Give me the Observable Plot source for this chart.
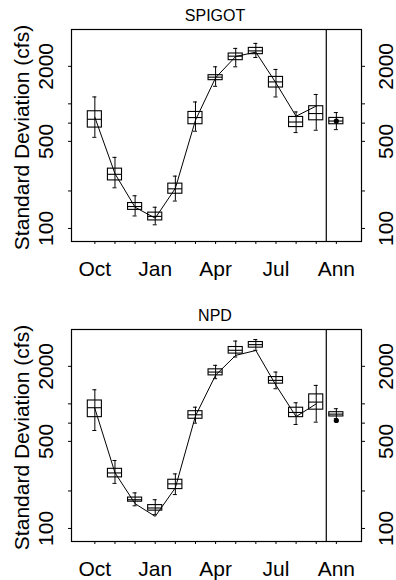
<!DOCTYPE html>
<html>
<head>
<meta charset="utf-8">
<script src="https://cdn.jsdelivr.net/npm/d3@7"></script>
<script src="https://cdn.jsdelivr.net/npm/@observablehq/plot@0.6"></script>
<style>
  html, body { margin: 0; padding: 0; background: #fff; }
  #chart svg { display: block; }
</style>
</head>
<body>
<div id="chart"></div>
<script>
// Categories
const months = ["Oct","Nov","Dec","Jan","Feb","Mar","Apr","May","Jun","Jul","Aug","Sep","Ann"];
const xTickLabels = ["Oct","Jan","Apr","Jul","Ann"];
const yTickValues = [100, 200, 500, 700, 1000, 2000];
const yTickLabels = [100, 500, 2000];
const yTitle = "Standard Deviation (cfs)";

// SPIGOT panel
const spigotMin = [539, 212, 126, 107, 166, 603, 1383, 1982, 2356, 1136, 588, 614, 621];
const spigotQ1  = [645, 243, 141, 116, 190, 686, 1549, 2241, 2504, 1352, 651, 738, 686];
const spigotMed = [752, 272, 150, 125, 208, 776, 1637, 2413, 2660, 1500, 715, 836, 728];
const spigotQ3  = [872, 302, 160, 134, 229, 861, 1698, 2535, 2812, 1645, 785, 957, 771];
const spigotMax = [1136, 372, 183, 148, 263, 1035, 1982, 2786, 3055, 1888, 861, 1189, 851];
const spigotObs = [780, 275, 148, 121, 210, 740, 1620, 2400, 2600, 1470, 795, 960];
const spigotAnnObs = 728;

// NPD panel
const npdMin = [611, 230, 152, 129, 187, 700, 1591, 2376, 2690, 1322, 683, 713, 760];
const npdQ1  = [782, 257, 164, 139, 207, 759, 1692, 2531, 2825, 1452, 782, 898, 792];
const npdMed = [931, 279, 170, 146, 228, 817, 1799, 2690, 2986, 1543, 853, 1033, 827];
const npdQ3  = [1064, 301, 177, 154, 246, 873, 1892, 2858, 3134, 1640, 931, 1191, 857];
const npdMax = [1297, 351, 193, 170, 274, 940, 2037, 3190, 3281, 1799, 1020, 1406, 914];
const npdObs = [920, 280, 158, 125, 212, 800, 1700, 2450, 2680, 1410, 790, 1000];
const npdAnnObs = 735;

const FONT = "'Liberation Sans', Arial, Helvetica, sans-serif";
const HW = 0.35;   // box half width in position units
const CAP = 0.1;   // whisker cap half width

function panel(title, mn, q1, med, q3, mx, obs, annObs, marginTop, marginBottom) {
  const boxes = months.map((m, i) => ({m, pos: i + 1, min: mn[i], q1: q1[i], med: med[i], q3: q3[i], max: mx[i]}));
  const line = obs.map((v, i) => ({pos: i + 1, v}));
  const ann = [{pos: months.length, v: annObs}];
  const labelled = months.map((m, i) => ({m, pos: i + 1})).filter(d => xTickLabels.includes(d.m));
  return Plot.plot({
    width: 396,
    height: 290,
    marginLeft: 71,
    marginRight: 35,
    marginTop,
    marginBottom,
    style: {fontFamily: FONT, color: "black", background: "white", overflow: "visible"},
    x: {type: "linear", domain: [-0.16, 14.25]},
    y: {type: "log", domain: [78.6, 3950]},
    marks: [
      Plot.frame({stroke: "black", strokeWidth: 1.2}),
      Plot.ruleX([months.length - 0.5], {stroke: "black", strokeWidth: 1.2}),
      Plot.axisX(boxes.map(d => d.pos), {anchor: "bottom", tickSize: 3, tickFormat: () => "", label: null}),
      Plot.axisY(yTickValues, {anchor: "left", tickSize: 3, tickFormat: () => "", label: null}),
      Plot.axisY(yTickValues, {anchor: "right", tickSize: 3, tickFormat: () => "", label: null}),
      Plot.text(labelled, {x: "pos", text: "m", frameAnchor: "bottom", textAnchor: "middle", lineAnchor: "top", dy: 20, fontSize: 21, fill: "black"}),
      Plot.text(yTickLabels, {y: d => d, text: d => String(d), frameAnchor: "left", textAnchor: "middle", lineAnchor: "middle", rotate: -90, dx: -25, fontSize: 21, fill: "black"}),
      Plot.text(yTickLabels, {y: d => d, text: d => String(d), frameAnchor: "right", textAnchor: "middle", lineAnchor: "middle", rotate: -90, dx: 25, fontSize: 21, fill: "black"}),
      Plot.text([yTitle], {frameAnchor: "left", textAnchor: "middle", lineAnchor: "middle", rotate: -90, dx: -49, dy: 2, fontSize: 21, fill: "black"}),
      Plot.text([title], {frameAnchor: "top", textAnchor: "middle", lineAnchor: "bottom", dy: -9, dx: -1.5, fontSize: 16, fill: "black"}),
      // whiskers
      Plot.ruleX(boxes, {x: "pos", y1: "min", y2: "max", stroke: "black", strokeWidth: 1}),
      Plot.ruleY(boxes, {y: "min", x1: d => d.pos - CAP, x2: d => d.pos + CAP, stroke: "black", strokeWidth: 1}),
      Plot.ruleY(boxes, {y: "max", x1: d => d.pos - CAP, x2: d => d.pos + CAP, stroke: "black", strokeWidth: 1}),
      // boxes
      Plot.rect(boxes, {x1: d => d.pos - HW, x2: d => d.pos + HW, y1: "q1", y2: "q3", fill: "none", stroke: "black", strokeWidth: 1.1}),
      Plot.ruleY(boxes, {y: "med", x1: d => d.pos - HW, x2: d => d.pos + HW, stroke: "black", strokeWidth: 1.1}),
      // observed line
      Plot.line(line, {x: "pos", y: "v", stroke: "black", strokeWidth: 1}),
      Plot.dot(ann, {x: "pos", y: "v", r: 2.6, fill: "black", stroke: "none"})
    ]
  });
}

const chart = document.getElementById("chart");
chart.appendChild(panel("SPIGOT", spigotMin, spigotQ1, spigotMed, spigotQ3, spigotMax, spigotObs, spigotAnnObs, 29, 49));
chart.appendChild(panel("NPD", npdMin, npdQ1, npdMed, npdQ3, npdMax, npdObs, npdAnnObs, 39, 39));
</script>
</body>
</html>
